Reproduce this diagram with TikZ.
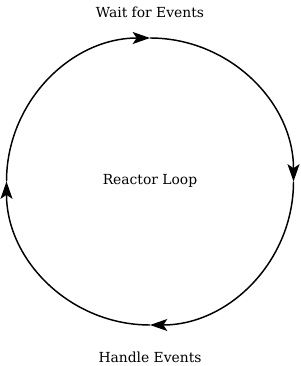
\documentclass[tikz,border=0pt]{standalone}
\usepackage{fontspec}
\setmainfont{DejaVu Serif}
\usetikzlibrary{arrows.meta}

\begin{document}
\begin{tikzpicture}[x=0.75pt, y=-0.75pt]
            % cadre
            \useasboundingbox (0,0) rectangle (300,366);

            % centre et rayon
            \coordinate (c) at (150,181.5);
            \def\r{143.5}
            \tikzset{
                etiq/.style={font=\fontsize{10.4}{12}\selectfont},
                boucle/.style={line width=1.1pt, -{Stealth[length=13pt, width=9pt, inset=3pt]}}
            }

            % textes
            \node[etiq] (attente) at (150,12) {Wait for Events};
            \node[etiq] (boucle) at (150,181) {Reactor Loop};
            \node[etiq] (traite) at (150,357) {Handle Events};

            % arcs du cercle (sens horaire)
            \draw[boucle] (c) ++(180:\r) arc[start angle=180, end angle=270, radius=\r];
            \draw[boucle] (c) ++(270:\r) arc[start angle=270, end angle=360, radius=\r];
            \draw[boucle] (c) ++(0:\r) arc[start angle=0, end angle=90, radius=\r];
            \draw[boucle] (c) ++(90:\r) arc[start angle=90, end angle=180, radius=\r];
        \end{tikzpicture}
\end{document}
